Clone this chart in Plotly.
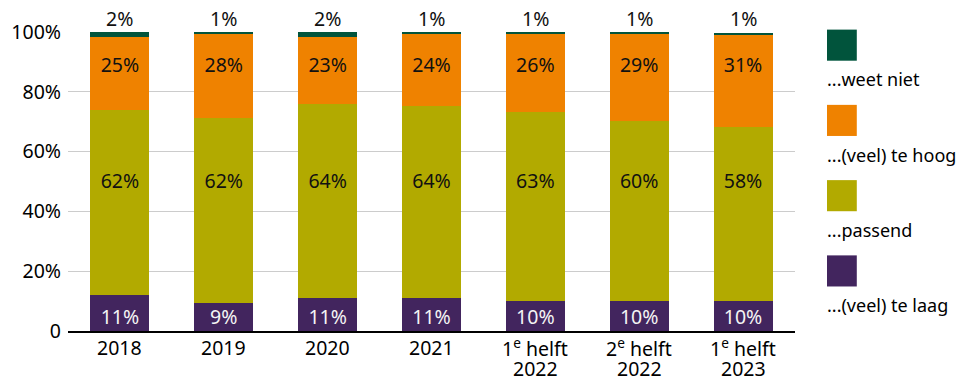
import plotly.graph_objects as go

categories = ["2018", "2019", "2020", "2021", "1<sup>e</sup> helft<br>2022",
              "2<sup>e</sup> helft<br>2022", "1<sup>e</sup> helft<br>2023"]

# segment heights (%)
te_laag = [12.2, 9.3, 11.2, 11.2, 10.2, 10.2, 9.9]
passend = [61.8, 62.1, 64.8, 64.1, 63.1, 60.1, 58.2]
te_hoog = [24.2, 27.9, 22.2, 24.0, 26.0, 29.0, 30.8]
weet_niet = [1.8, 0.7, 1.8, 0.7, 0.7, 0.7, 0.8]

# printed labels (%)
label_te_laag = [11, 9, 11, 11, 10, 10, 10]
label_passend = [62, 62, 64, 64, 63, 60, 58]
label_te_hoog = [25, 28, 23, 24, 26, 29, 31]
label_weet_niet = [2, 1, 2, 1, 1, 1, 1]

series_names = ["...(veel) te laag", "...passend", "...(veel) te hoog", "...weet niet"]
series_values = [te_laag, passend, te_hoog, weet_niet]
series_labels = [label_te_laag, label_passend, label_te_hoog]
colors = ["#42255e", "#b2aa00", "#ef8200", "#01543c"]
text_colors = ["#f4f4f4", "#111111", "#111111"]
label_rows = [4.1, 49.4, 88.4]   # fixed label heights per series

ytick_vals = [0, 20, 40, 60, 80, 100]
ytick_text = ["0", "20%", "40%", "60%", "80%", "100%"]

FONT = "Noto Sans, Open Sans, sans-serif"
FS = 19.5

fig = go.Figure()
for i, (name, vals) in enumerate(zip(series_names, series_values)):
    fig.add_trace(go.Bar(
        x=categories, y=vals, name=name,
        marker=dict(color=colors[i], line=dict(width=0)),
        hoverinfo="skip", showlegend=False,
    ))
for i, labs in enumerate(series_labels):
    fig.add_trace(go.Scatter(
        x=categories, y=[label_rows[i]] * len(categories),
        mode="text", text=[f"{v}%" for v in labs],
        textposition="middle center",
        textfont=dict(family=FONT, size=FS, color=text_colors[i]),
        cliponaxis=False, hoverinfo="skip", showlegend=False,
    ))

# "weet niet" labels above the bars
for ci, v in enumerate(label_weet_niet):
    fig.add_annotation(x=ci, y=100, xref="x", yref="y", yshift=14,
                       text=f"{v}%", showarrow=False,
                       xanchor="center", yanchor="middle",
                       font=dict(family=FONT, size=FS, color="#111111"))

fig.update_layout(
    barmode="stack",
    bargap=0.433,
    width=962, height=376,
    margin=dict(l=68, r=167, t=32, b=45, autoexpand=False),
    plot_bgcolor="white", paper_bgcolor="white",
    font=dict(family=FONT, size=FS, color="black"),
)
fig.update_yaxes(range=[0, 100], tickvals=ytick_vals, ticktext=ytick_text,
                 showgrid=True, gridcolor="#cccccc", gridwidth=1,
                 zeroline=False, ticks="", ticklabelstandoff=6, automargin=False,
                 tickfont=dict(family=FONT, size=FS, color="black"))
fig.update_xaxes(type="category", categoryorder="array", categoryarray=categories,
                 showline=True, linecolor="black", linewidth=2, ticks="",
                 automargin=False, showticklabels=False)

# category labels, one annotation per line for tighter line spacing
for ci, cat in enumerate(categories):
    for li, line in enumerate(cat.split("<br>")):
        fig.add_annotation(x=ci, xref="x", yref="paper", y=0,
                           yshift=-16 - 21 * li, text=line, showarrow=False,
                           xanchor="center", yanchor="middle",
                           font=dict(family=FONT, size=FS, color="black"))

# custom legend: square above label, in reverse stacking order
legend_order = list(range(len(series_names)))[::-1]
for k, i in enumerate(legend_order):
    y0 = 1.008 - k * 0.2517
    fig.add_shape(type="rect", xref="paper", yref="paper",
                  x0=1.044, x1=1.085, y0=y0 - 0.104, y1=y0,
                  fillcolor=colors[i], line=dict(width=0))
    fig.add_annotation(xref="paper", yref="paper", x=1.044, y=y0 - 0.166,
                       text=series_names[i], showarrow=False,
                       xanchor="left", yanchor="middle", xshift=-2,
                       font=dict(family=FONT, size=18, color="black"))

fig.write_html("out.html", config={"displayModeBar": False},
               post_script="document.body.style.margin='0';document.body.style.overflow='hidden';")
